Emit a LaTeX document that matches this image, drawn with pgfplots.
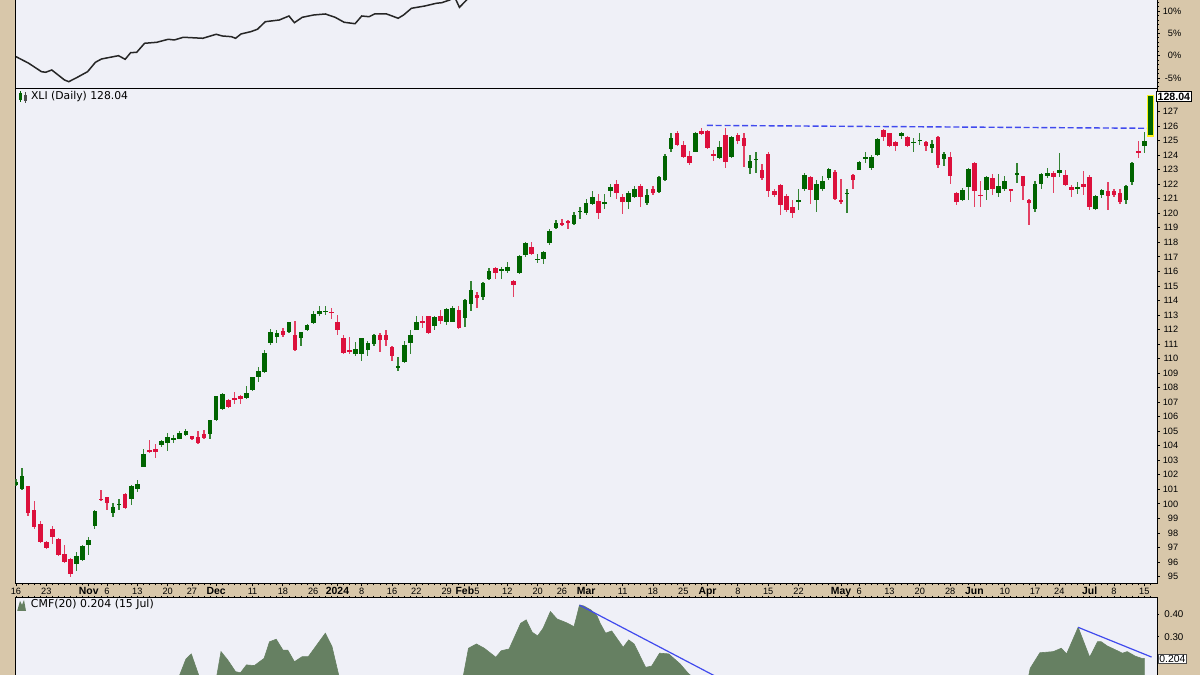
\documentclass[border=0pt]{standalone}
\usepackage{fontspec}
\setmainfont{Liberation Sans}
\newfontfamily\dejavu{DejaVu Sans}
\usepackage{pgfplots}
\usepackage{pgfplotstable}
\pgfplotsset{compat=1.18}

\definecolor{tanbg}{RGB}{216,199,170}
\definecolor{plotbg}{RGB}{239,240,247}
\definecolor{upg}{RGB}{0,100,0}
\definecolor{dnr}{RGB}{220,16,60}
\definecolor{cmfg}{RGB}{102,128,98}
\definecolor{tline}{RGB}{64,74,238}

\pgfplotstableread{
i O H L C
0 101.3 101.7 101.2 101.5
1 101.0 102.5 100.95 101.9
2 101.2 101.25 99.2 99.35
3 99.6 100.2 98.25 98.4
4 98.6 98.8 97.3 97.4
5 97.35 97.45 96.9 96.95
6 98.25 98.45 97.25 97.7
7 97.6 97.65 96.4 96.45
8 96.55 97.2 95.95 96.0
9 96.2 96.25 94.95 95.2
10 95.85 96.7 95.4 96.4
11 96.15 97.2 96.1 97.1
12 97.2 97.7 96.5 97.5
13 98.5 99.55 98.3 99.5
14 100.35 100.95 100.25 100.3
15 100.45 100.5 99.6 100.05
16 99.35 100.05 99.1 99.8
17 99.95 100.35 99.6 100.0
18 100.7 100.75 99.7 99.75
19 100.35 101.3 99.9 101.25
20 101.0 101.65 100.85 101.35
21 102.55 103.8 102.55 103.45
22 103.7 104.4 103.5 103.55
23 103.75 104.15 103.15 103.6
24 104.05 104.4 103.9 104.35
25 104.2 104.9 103.65 104.6
26 104.45 104.75 104.2 104.5
27 104.5 105.05 104.45 104.85
28 104.75 105.15 104.7 105.0
29 104.65 104.7 104.4 104.45
30 104.6 105.05 104.1 104.2
31 104.8 105.1 104.5 104.55
32 104.8 105.8 104.45 105.75
33 105.8 107.45 105.7 107.4
34 106.5 107.6 106.45 107.55
35 107.15 107.2 106.6 106.7
36 107.25 107.7 106.9 107.2
37 107.4 107.5 106.9 107.2
38 107.3 108.1 107.2 107.6
39 107.85 108.75 107.8 108.7
40 108.7 109.4 108.4 109.15
41 109.1 110.6 109.0 110.4
42 111.05 112.05 110.95 111.8
43 111.5 111.95 111.1 111.75
44 111.9 112.1 111.5 111.6
45 111.85 112.55 111.75 112.5
46 111.65 112.6 110.55 110.6
47 111.4 111.85 110.85 111.8
48 111.95 112.4 111.9 112.3
49 112.45 113.3 112.4 113.1
50 113.1 113.6 112.95 113.3
51 113.25 113.6 113.0 113.3
52 113.2 113.45 112.7 113.15
53 112.5 113.0 111.6 112.0
54 111.45 111.65 110.3 110.4
55 110.55 111.5 110.35 110.5
56 110.35 111.15 110.2 110.65
57 110.35 111.45 109.8 111.4
58 110.6 111.2 110.2 111.1
59 111.0 111.7 110.9 111.6
60 111.65 111.75 110.45 111.3
61 111.65 111.95 110.9 111.3
62 110.8 110.85 109.8 110.15
63 109.4 110.1 109.15 109.45
64 109.8 111.2 109.7 110.95
65 111.1 111.95 110.3 111.6
66 112.0 112.9 111.95 112.5
67 112.6 112.95 112.1 112.45
68 112.9 112.95 111.7 111.75
69 112.25 112.9 111.95 112.85
70 112.95 113.35 112.4 112.6
71 112.5 113.45 112.3 113.4
72 112.55 113.6 112.5 113.45
73 113.35 113.6 112.05 112.1
74 112.8 114.1 112.15 114.05
75 113.75 115.35 113.3 114.75
76 114.35 114.55 113.45 114.15
77 114.25 115.25 114.0 115.2
78 115.5 116.25 115.4 116.0
79 116.25 116.3 115.45 115.9
80 116.1 116.3 115.45 116.15
81 116.05 116.65 115.9 116.3
82 115.35 115.4 114.25 115.05
83 115.9 117.1 115.8 117.05
84 117.1 118.0 117.0 117.95
85 117.65 118.05 117.1 117.2
86 116.8 117.2 116.55 116.85
87 116.85 117.4 116.5 117.35
88 117.95 118.95 117.85 118.8
89 119.0 119.55 118.9 119.35
90 119.35 119.6 119.1 119.2
91 119.5 119.55 118.9 119.35
92 119.25 120.1 119.2 119.85
93 120.1 120.45 119.6 120.15
94 120.05 120.95 119.85 120.7
95 120.65 121.5 120.55 121.1
96 120.85 121.3 119.6 120.05
97 120.65 121.35 120.3 120.75
98 121.55 122.0 121.1 121.8
99 122.0 122.3 121.0 121.4
100 121.1 121.3 119.95 120.8
101 120.8 121.55 120.3 121.4
102 121.15 121.85 121.05 121.65
103 121.9 122.0 120.4 121.15
104 120.7 121.7 120.6 121.25
105 121.65 121.9 121.25 121.4
106 121.45 122.55 121.4 122.5
107 122.3 124.1 122.2 123.95
108 124.45 125.5 124.25 125.15
109 125.55 125.65 124.6 124.7
110 124.7 124.95 123.8 123.9
111 123.95 124.3 123.3 123.45
112 124.25 125.6 124.2 125.5
113 125.65 125.85 125.4 125.45
114 125.65 125.7 124.4 124.5
115 124.05 124.35 123.6 124.0
116 123.8 125.0 123.75 124.55
117 125.4 125.85 123.1 123.5
118 123.85 125.3 123.8 125.25
119 125.4 125.55 124.8 124.95
120 125.15 125.5 123.2 124.65
121 123.15 124.0 122.7 123.6
122 123.7 124.25 122.75 123.75
123 123.0 123.4 122.3 122.4
124 124.1 124.25 121.15 121.55
125 121.5 121.7 121.1 121.25
126 121.95 122.05 119.9 120.55
127 121.2 121.3 120.1 120.25
128 120.45 120.9 119.7 120.0
129 120.8 121.65 120.25 120.9
130 121.7 122.8 121.55 122.65
131 122.5 122.6 120.65 121.6
132 120.95 122.3 120.1 122.0
133 121.65 122.6 121.5 122.25
134 122.4 123.15 122.3 123.05
135 122.85 123.0 120.95 121.0
136 120.9 122.35 120.65 120.75
137 121.35 121.7 120.05 121.4
138 122.65 122.7 121.7 122.3
139 123.0 123.6 122.95 123.55
140 123.8 124.25 123.45 123.85
141 123.1 124.0 122.95 123.9
142 124.0 125.15 123.95 125.1
143 125.7 125.8 124.95 125.25
144 125.5 125.55 124.6 124.65
145 124.9 125.0 124.3 124.6
146 125.3 125.6 125.1 125.5
147 125.25 125.3 124.6 124.65
148 124.85 125.15 124.2 124.9
149 125.0 125.55 124.7 125.05
150 124.9 125.0 124.3 124.65
151 124.5 125.05 124.15 124.8
152 125.25 125.3 123.15 123.35
153 123.75 124.2 123.25 124.05
154 123.9 124.25 122.05 122.55
155 121.4 121.45 120.55 120.75
156 120.9 121.75 120.85 121.6
157 121.8 123.1 120.9 123.05
158 123.45 123.5 120.4 121.55
159 121.25 122.2 120.4 121.2
160 121.6 122.55 120.9 122.5
161 122.4 122.7 121.25 121.7
162 121.4 122.7 121.1 121.9
163 121.7 122.55 121.5 122.25
164 121.65 121.7 120.8 121.6
165 122.7 123.45 122.1 122.75
166 122.55 122.6 120.9 121.9
167 120.9 121.0 119.2 120.7
168 120.3 122.2 120.1 122.0
169 122.0 122.8 121.7 122.7
170 122.55 123.1 122.45 122.8
171 122.8 122.9 121.4 122.5
172 122.8 124.15 122.5 123.0
173 122.65 123.0 121.85 121.95
174 121.8 121.95 121.15 121.6
175 121.75 122.15 121.35 121.8
176 122.05 122.9 121.25 121.8
177 122.5 122.65 120.25 120.4
178 120.3 121.25 120.2 121.2
179 121.25 121.7 121.05 121.6
180 121.55 122.15 120.2 121.2
181 121.5 121.7 121.1 121.25
182 121.4 121.65 120.65 120.75
183 120.95 121.95 120.65 121.85
184 122.15 123.5 121.95 123.45
185 124.25 124.95 123.8 124.2
186 124.65 125.6 124.15 125.0
187 125.4 128.1 125.3 128.04
}\candles

\pgfplotsset{
  /pgf/number format/assume math mode=true,
  panel/.style={
    scale only axis, anchor=south west, width=570.75pt,
    xmin=-0.08, xmax=188.1,
    axis background/.style={fill=plotbg},
    axis line style={draw=black, line width=0.5pt},
    tick style={draw=black, line width=0.4pt},
    tick align=outside,
    major tick length=1.4pt, minor tick length=1.0pt,
    yticklabel pos=right, ytick pos=right,
    tick label style={font=\fontsize{4.6}{5}\selectfont, inner sep=0pt},
  },
  candle/.style={draw=none, mark=none, forget plot,
    error bars/y dir=both, error bars/y explicit, error bars/error mark=none,
    error bars/error bar style={#1}},
}

\begin{document}
\begin{tikzpicture}
\useasboundingbox (0,0) rectangle (600pt,337.5pt);
\clip (0,0) rectangle (600pt,337.5pt);
\fill[tanbg] (0,0) rectangle (600pt,337.5pt);

% ---------- top panel (performance line) ----------
\begin{axis}[panel,
  at={(7.75pt,293pt)}, height=54.5pt,
  ymin=-7.47, ymax=16.97,
  xtick=\empty,
  ytick={-5,0,5,10}, minor ytick={-7,-6,...,16},
  yticklabel={\pgfmathprintnumber{\tick}\%},
  yticklabel style={anchor=west, text width=10.5pt, align=right},
]
\addplot[black!85, line width=0.75pt] coordinates {
(0,-0.22) (2.1,-1.70) (4.2,-3.59) (4.9,-3.72) (5.9,-3.21) (8.0,-5.45) (8.7,-5.83)
(10.0,-4.93) (11.8,-3.59) (13.1,-1.48) (14.1,-0.74) (16.9,0.0) (18.0,-0.81)
(18.9,0.67) (19.9,0.76) (21.2,2.78) (23.2,3.0) (25.1,3.68) (26.1,3.52) (27.6,4.13)
(30.8,3.90) (33.0,4.80) (34.0,4.42) (35.5,4.26) (36.2,3.90) (37.1,4.87) (38.7,5.38)
(39.8,5.92) (41.1,7.62) (43.4,8.0) (45.0,8.9) (45.9,7.40) (47.2,8.61) (49.1,9.13)
(51.0,9.35) (52.6,8.61) (54.1,7.49) (55.9,7.17) (57.0,8.9) (58.2,8.74) (59.1,9.35)
(61.1,9.35) (62.0,8.9) (63.0,8.39) (63.9,9.13) (65.2,10.63) (67.4,11.14) (69.3,11.75)
(70.2,11.88) (71.5,12.49) (72.3,13.2) (73.1,10.85) (74.3,12.49) (75.5,15.0)
(80,19) (100,23) (140,24) (187,27)};
\end{axis}

% ---------- main candlestick panel ----------
\begin{axis}[panel,
  at={(7.75pt,45.75pt)}, height=247.25pt,
  ymin=94.52, ymax=128.555,
  ytick={95,96,...,127},
  yticklabel style={anchor=west, text width=9pt, align=right},
  xtick pos=bottom,
  xtick={0,5,12,15,20,25,29,33,39,44,49,53,57,62,66,71,74,76,81,86,90,94,100,105,110,114,119,124,129,136,139,144,149,154,158,163,168,172,177,181,186},
  xticklabels={16,23,{\fontsize{5.2}{6}\selectfont\bfseries Nov},6,13,20,27,{\fontsize{5.2}{6}\selectfont\bfseries Dec},11,18,26,{\fontsize{5.2}{6}\selectfont\bfseries 2024},8,16,22,29,{\fontsize{5.2}{6}\selectfont\bfseries Feb},5,12,20,26,{\fontsize{5.2}{6}\selectfont\bfseries Mar},11,18,25,{\fontsize{5.2}{6}\selectfont\bfseries Apr},8,15,22,{\fontsize{5.2}{6}\selectfont\bfseries May},6,13,20,28,{\fontsize{5.2}{6}\selectfont\bfseries Jun},10,17,24,{\fontsize{5.2}{6}\selectfont\bfseries Jul},8,15},
  minor xtick={0,1,...,187},
  xticklabel style={anchor=base, yshift=-4.0pt},
]
% resistance line
\addplot[tline, line width=0.7pt, dash pattern=on 3pt off 1.4pt] coordinates {(113.9,126.05) (187.2,125.85)};
% wicks
\addplot[candle={line width=0.65pt, draw=upg!80},
  restrict expr to domain={\thisrow{C}-\thisrow{O}}{0:100}]
  table[x=i, y=C, y error plus expr={\thisrow{H}-\thisrow{C}}, y error minus expr={\thisrow{C}-\thisrow{L}}] {\candles};
\addplot[candle={line width=0.65pt, draw=dnr!80},
  restrict expr to domain={\thisrow{C}-\thisrow{O}}{-100:-0.0001}]
  table[x=i, y=C, y error plus expr={\thisrow{H}-\thisrow{C}}, y error minus expr={\thisrow{C}-\thisrow{L}}] {\candles};
% highlight of last candle
\addplot[candle={line width=3.4pt, draw=yellow!90!white}]
  coordinates {(187,126.7) +- (0,1.43)};
% bodies
\addplot[candle={line width=2.3pt, draw=upg},
  restrict expr to domain={\thisrow{C}-\thisrow{O}}{0:100}]
  table[x=i, y expr={(\thisrow{O}+\thisrow{C})/2}, y error expr={max(abs(\thisrow{C}-\thisrow{O})/2,0.035)}] {\candles};
\addplot[candle={line width=2.3pt, draw=dnr},
  restrict expr to domain={\thisrow{C}-\thisrow{O}}{-100:-0.0001}]
  table[x=i, y expr={(\thisrow{O}+\thisrow{C})/2}, y error expr={max(abs(\thisrow{C}-\thisrow{O})/2,0.035)}] {\candles};
\end{axis}

% ---------- CMF panel ----------
\begin{axis}[panel,
  at={(7.75pt,-22.5pt)}, height=61pt,
  ymin=-0.0698, ymax=0.4724,
  ytick={0.3,0.4},
  yticklabel={\pgfmathprintnumber[fixed,fixed zerofill,precision=2]{\tick}},
  yticklabel style={anchor=west, text width=12pt, align=right, font=\fontsize{4.9}{5.5}\selectfont},
  xtick={0,1,...,187}, xticklabels={}, xtick pos=top,
  major tick length=1.0pt,
]
\addplot[fill=cmfg, draw=cmfg, line width=0.3pt] coordinates {
(0,-1) (0,-0.05) (5,-0.10) (10,-0.15) (15,-0.05) (20,0.0) (24,0.05) (26.5,0.10)
(27.0,0.131) (28.0,0.20) (28.9,0.224) (30.5,0.10) (32,0.05) (33.0,0.11) (33.8,0.234)
(34.9,0.197) (36.2,0.145) (37.0,0.14) (38.0,0.175) (39.3,0.172) (40.9,0.204)
(41.8,0.278) (42.9,0.289) (44.0,0.241) (44.8,0.241) (45.9,0.189) (47.2,0.212)
(48.2,0.212) (49.6,0.264) (51.0,0.316) (52.1,0.256) (53.2,0.13) (54,0.08) (58,0.0)
(63,-0.05) (68,0.0) (72,0.06) (73.7,0.12) (74.6,0.249) (75.9,0.268) (77.2,0.249)
(79.1,0.209) (80.0,0.238) (81.3,0.246) (83.2,0.36) (84.1,0.375) (85.1,0.32)
(86.0,0.304) (86.9,0.338) (88.1,0.412) (89.2,0.379) (90.7,0.363) (92.0,0.345)
(92.9,0.441) (93.6,0.437) (94.8,0.419) (95.8,0.392) (96.3,0.36) (97.2,0.316)
(98.2,0.326) (100.1,0.253) (101.0,0.286) (101.9,0.268) (103.8,0.164) (104.8,0.17)
(106.1,0.227) (107.6,0.224) (109.5,0.179) (110.8,0.138) (112,0.11) (115,0.05)
(125,-0.05) (140,-0.08) (155,-0.02) (163,0.05) (166.9,0.12) (167.2,0.16)
(168.8,0.229) (171.0,0.234) (172.3,0.249) (173.2,0.224) (175.1,0.342) (177.0,0.209)
(178.3,0.278) (178.9,0.278) (179.9,0.259) (181.1,0.244) (182.4,0.227) (183.2,0.234)
(184.5,0.214) (185.6,0.204) (186,0.204) (186,-1)};
\addplot[tline, line width=0.6pt] coordinates {(92.9,0.441) (122,0.03)};
\addplot[tline, line width=0.6pt] coordinates {(175.1,0.342) (187.2,0.21)};
\end{axis}

% ---------- labels ----------
\fill[upg] (9.3pt,287.5pt) rectangle (10.8pt,291pt);
\draw[upg, line width=0.4pt] (10.05pt,286.5pt) -- (10.05pt,292pt);
\fill[black!70] (11.8pt,286.8pt) rectangle (13.3pt,290pt);
\draw[black!70, line width=0.4pt] (12.55pt,286pt) -- (12.55pt,291.5pt);
\node[anchor=west, inner sep=0pt, font=\dejavu\fontsize{5.4}{6}\selectfont] at (15.35pt,289.15pt) {XLI (Daily) 128.04};

\fill[cmfg] (8.6pt,32pt) -- (10pt,37pt) -- (11pt,35pt) -- (12pt,37.5pt) -- (13pt,32pt) -- cycle;
\node[anchor=west, inner sep=0pt, font=\dejavu\fontsize{5.45}{6}\selectfont] at (15.3pt,35.25pt) {CMF(20) 0.204 (15 Jul)};

\node[anchor=west, draw=black, line width=0.5pt, fill=white, inner xsep=0.6pt, inner ysep=0.7pt,
  font=\fontsize{5.3}{6}\selectfont\bfseries] at (578pt,289.25pt) {128.04};
\node[anchor=west, draw=black!70, line width=0.4pt, fill=white, inner xsep=0.5pt, inner ysep=0.6pt,
  font=\fontsize{5.2}{6}\selectfont] at (579pt,8.1pt) {0.204};
\end{tikzpicture}
\end{document}
